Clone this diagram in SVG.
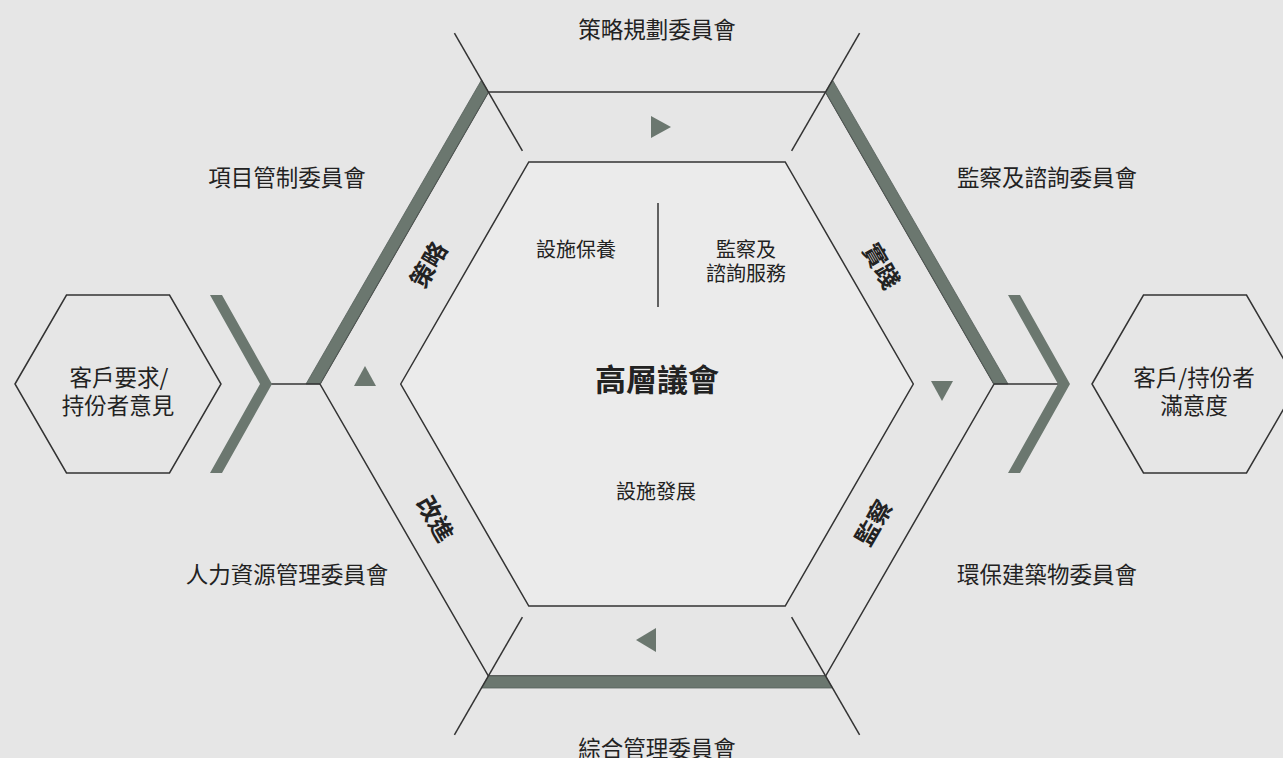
<svg xmlns="http://www.w3.org/2000/svg" width="1283" height="758" viewBox="0 0 1283 758">
<style>
.ln{fill:none;stroke:#333;stroke-width:1.5}
.bar{fill:#6b776f;stroke:#55605a;stroke-width:0.8}
.tri{fill:#6b776f}
.t{font-family:"Noto Sans CJK TC","Noto Sans CJK SC",sans-serif;fill:#222;text-anchor:middle;font-size:22.5px}
.s{font-size:20px}
.b{font-weight:bold}
.r{font-size:24px}
</style>
<rect width="1283" height="758" fill="#e6e6e6"/>
<g id="ring">
<polygon class="ln" points="320,384 488.4,92 825.6,92 994,384 825.6,676 488.4,676"/>
<polygon class="bar" points="488.4,92 320,384 306,384 481.5,80"/>
<polygon class="bar" points="825.6,92 994,384 1008,384 832.5,80"/>
<polygon class="bar" points="488.4,676 825.6,676 832.5,688 481.5,688"/>
<polygon class="tri" points="651,116 671,127 651,138"/>
<polygon class="tri" points="931,381 953,381 942,401"/>
<polygon class="tri" points="656,628 656,652 636,640"/>
<polygon class="tri" points="354,386 376,386 365,366"/>
<text class="t b r" transform="translate(429,265) rotate(-60)" y="8.5">策略</text>
<text class="t b r" transform="translate(881,266) rotate(60)" y="8.5">實踐</text>
<text class="t b r" transform="translate(435,519) rotate(60)" y="8.5">改進</text>
<text class="t b r" transform="translate(874,523) rotate(-60)" y="8.5">監察</text>
</g>
<g id="core">
<polygon points="400.7,384 528.8,162 785.2,162 913.3,384 785.2,606 528.8,606" fill="#ebebeb" stroke="#333" stroke-width="1.5"/>
<line class="ln" x1="658" y1="203" x2="658" y2="307"/>
<text class="t s" x="576" y="257">設施保養</text>
<text class="t s" x="746" y="257">監察及</text>
<text class="t s" x="746" y="281">諮詢服務</text>
<text class="t b" x="657" y="391" style="font-size:31px">高層議會</text>
<text class="t s" x="656" y="499">設施發展</text>
</g>
<g id="connectors">
<line class="ln" x1="454.4" y1="33.1" x2="522.4" y2="150.9"/>
<line class="ln" x1="859.6" y1="33.1" x2="791.6" y2="150.9"/>
<line class="ln" x1="454.4" y1="734.9" x2="522.4" y2="617.1"/>
<line class="ln" x1="859.6" y1="734.9" x2="791.6" y2="617.1"/>
<line class="ln" x1="266" y1="384" x2="320" y2="384"/>
<line class="ln" x1="994" y1="384" x2="1062" y2="384"/>
<polygon class="tri" points="210,295 222,295 272,384 222,473 210,473 260,384"/>
<polygon class="tri" points="1008,295 1020,295 1070,384 1020,473 1008,473 1058,384"/>
</g>
<g id="input">
<polygon class="ln" points="15,384 66.5,295 169.5,295 221,384 169.5,473 66.5,473"/>
<text class="t" x="119" y="386">客戶要求/</text>
<text class="t" x="118" y="414">持份者意見</text>
</g>
<g id="output">
<polygon class="ln" points="1092,384 1143.5,295 1246.5,295 1298,384 1246.5,473 1143.5,473"/>
<text class="t" x="1194" y="386">客戶/持份者</text>
<text class="t" x="1194" y="414">滿意度</text>
</g>
<g id="committees">
<text class="t" x="657" y="38">策略規劃委員會</text>
<text class="t" x="287" y="186">項目管制委員會</text>
<text class="t" x="1047" y="186">監察及諮詢委員會</text>
<text class="t" x="287" y="583">人力資源管理委員會</text>
<text class="t" x="1047" y="583">環保建築物委員會</text>
<text class="t" x="657" y="757">綜合管理委員會</text>
</g>
</svg>
